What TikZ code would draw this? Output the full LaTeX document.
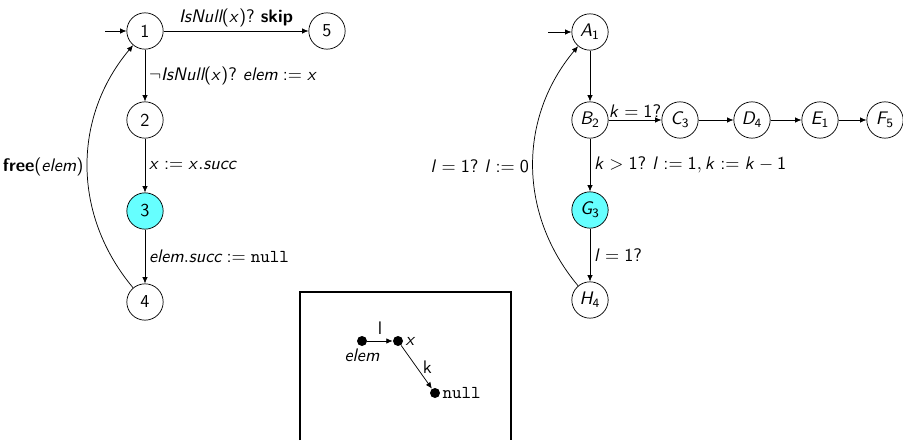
\documentclass[tikz,border=0pt]{standalone}
\usepackage{amsmath,amssymb}
\usetikzlibrary{arrows.meta,positioning,calc}

% sans serif math, as on the slides
\DeclareSymbolFont{sfletters}{OT1}{cmss}{m}{sl}
\SetSymbolFont{operators}{normal}{OT1}{cmss}{m}{n}
\DeclareMathSymbol{x}{\mathalpha}{sfletters}{`x}
\DeclareMathSymbol{k}{\mathalpha}{sfletters}{`k}
\DeclareMathSymbol{l}{\mathalpha}{sfletters}{`l}
\DeclareMathSymbol{A}{\mathalpha}{sfletters}{`A}
\DeclareMathSymbol{B}{\mathalpha}{sfletters}{`B}
\DeclareMathSymbol{C}{\mathalpha}{sfletters}{`C}
\DeclareMathSymbol{D}{\mathalpha}{sfletters}{`D}
\DeclareMathSymbol{E}{\mathalpha}{sfletters}{`E}
\DeclareMathSymbol{F}{\mathalpha}{sfletters}{`F}
\DeclareMathSymbol{G}{\mathalpha}{sfletters}{`G}
\DeclareMathSymbol{H}{\mathalpha}{sfletters}{`H}
\definecolor{hotcyan}{RGB}{102,255,255}

\begin{document}
\begin{tikzpicture}[x=0.55pt,y=0.55pt,
    font=\sffamily,
    state/.style={draw, circle, minimum size=20pt, inner sep=0pt},
    hot/.style={state, fill=hotcyan},
    dot/.style={circle, fill, inner sep=0pt, minimum size=5.5pt},
    >={Latex[length=3.5pt,width=3pt]}]
    \useasboundingbox (0,0) rectangle (903,440);

    % Program automaton
    \node[state] (n1) at (145,409) {1};
    \node[state] (n5) at (327,409) {5};
    \node[state] (n2) at (145,320) {2};
    \node[hot]   (n3) at (145,229) {3};
    \node[state] (n4) at (145,138) {4};
    \coordinate (in1) at (105,409);

    \draw[->] (in1) -- (n1);
    \draw[->] (n1) -- node[above, inner sep=2pt] {$\textit{IsNull}(x)?$ \textbf{skip}} (n5);
    \draw[->] (n1) -- node[right, inner sep=2pt] {$\neg\textit{IsNull}(x)?\ \textit{elem} := x$} (n2);
    \draw[->] (n2) -- node[right, inner sep=2pt] {$x := x.\textit{succ}$} (n3);
    \draw[->] (n3) -- node[right, inner sep=2pt] {$\textit{elem}.\textit{succ} := \texttt{null}$} (n4);
    \draw[->] (n4) to[bend left=40] node[left, inner sep=2pt] {$\textbf{free}(\textit{elem})$} (n1);

    % Counter automaton
    \node[state] (a1) at (590,408) {$A_1$};
    \node[state] (b2) at (590,320) {$B_2$};
    \node[state] (c3) at (680,320) {$C_3$};
    \node[state] (d4) at (752,320) {$D_4$};
    \node[state] (e1) at (820,320) {$E_1$};
    \node[state] (f5) at (885,320) {$F_5$};
    \node[hot]   (g3) at (590,230) {$G_3$};
    \node[state] (h4) at (590,140) {$H_4$};
    \coordinate (ina) at (548,408);

    \draw[->] (ina) -- (a1);
    \draw[->] (a1) -- (b2);
    \draw[->] (b2) -- node[above, inner sep=1pt] {$k = 1?$} (c3);
    \draw[->] (c3) -- (d4);
    \draw[->] (d4) -- (e1);
    \draw[->] (e1) -- (f5);
    \draw[->] (b2) -- node[right, inner sep=2pt] {$k > 1?\ l := 1, k := k-1$} (g3);
    \draw[->] (g3) -- node[right, inner sep=2pt] {$l = 1?$} (h4);
    \draw[->] (h4) to[bend left=40] node[left, inner sep=2pt] {$l = 1?\ l := 0$} (a1);

    % Heap shape
    \draw[semithick] (300,0) -- (300,148) -- (511,148) -- (511,0);
    \node[dot, label={[inner sep=1pt]below:{\textit{elem}}}] (elem) at (362,99) {};
    \node[dot, label={[inner sep=1pt]right:{$x$}}] (x) at (398,99) {};
    \node[dot, label={[inner sep=1pt]right:{\texttt{null}}}] (null) at (435,47) {};
    \draw[->] (elem) -- node[above] {l} (x);
    \draw[->] (x) -- node[right] {k} (null);
\end{tikzpicture}
\end{document}
